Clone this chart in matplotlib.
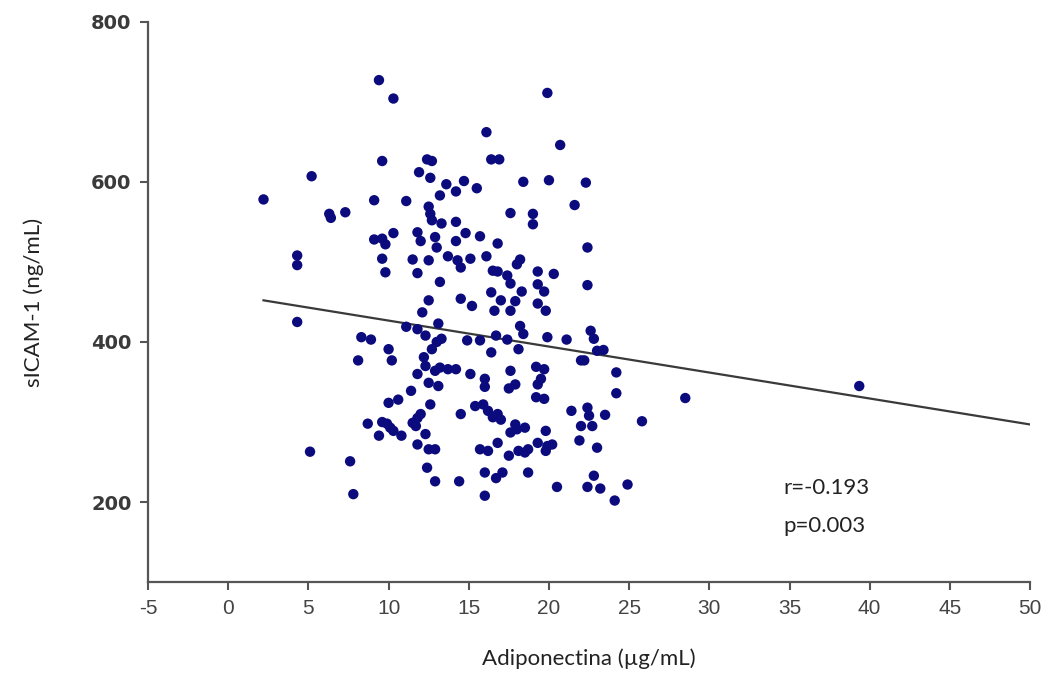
import matplotlib.pyplot as plt

plt.rcParams["axes.unicode_minus"] = False

# Adiponectin (ug/mL) and sICAM-1 (ng/mL) per subject
adiponectin = [
    9.4, 10.3, 19.9, 16.1, 20.7, 16.4, 16.9, 12.4, 12.7, 9.6,
    5.2, 11.9, 12.6, 13.6, 14.7, 14.2, 15.5, 18.4, 20.0, 22.3,
    13.2, 21.6, 2.2, 9.1, 11.1, 12.5, 12.6, 12.7, 6.3, 6.4,
    7.3, 13.3, 14.2, 14.8, 11.8, 12.9, 13.0, 14.2, 15.7, 16.8,
    17.6, 19.0, 19.0, 22.4, 10.3, 9.1, 9.6, 9.8, 12.0, 4.3,
    4.3, 9.6, 11.5, 12.5, 13.7, 14.3, 15.1, 16.1, 18.2, 9.8,
    11.8, 13.2, 14.5, 16.5, 16.8, 17.4, 17.6, 18.0, 19.3, 20.3,
    22.4, 19.3, 19.7, 19.8, 18.3, 16.4, 12.5, 14.5, 15.2, 17.0,
    17.9, 19.3, 12.1, 16.6, 17.6, 13.1, 11.1, 11.8, 12.3, 13.3,
    13.0, 12.7, 14.9, 15.7, 16.7, 17.4, 18.2, 18.4, 18.1, 19.9,
    21.1, 22.6, 22.8, 23.0, 23.4, 22.0, 22.2, 24.2, 24.2, 28.5,
    39.35, 4.3, 8.3, 8.9, 10.0, 8.1, 10.2, 11.8, 11.4, 10.0,
    10.6, 8.7, 9.6, 9.9, 10.1, 10.3, 10.8, 9.4, 11.5, 11.8,
    12.0, 11.7, 11.8, 12.3, 5.1, 7.6, 7.8, 12.2, 12.3, 13.2,
    12.9, 13.7, 14.2, 15.1, 16.4, 17.6, 16.0, 16.0, 19.2, 19.7,
    19.5, 12.6, 12.5, 13.1, 17.5, 17.9, 19.3, 19.2, 19.7, 14.5,
    15.4, 15.9, 16.2, 16.5, 16.8, 17.0, 17.6, 18.0, 18.5, 17.9,
    19.8, 15.7, 16.2, 16.8, 17.5, 18.1, 18.5, 18.7, 19.3, 19.9,
    20.2, 19.8, 12.4, 12.5, 12.9, 12.9, 14.4, 16.0, 16.7, 17.1,
    18.7, 16.0, 20.5, 21.4, 22.4, 22.5, 22.0, 22.7, 23.5, 25.8,
    21.9, 23.0, 22.8, 22.4, 23.2, 24.9, 24.1,
]
sicam1 = [
    727, 704, 711, 662, 646, 628, 628, 628, 626, 626,
    607, 612, 605, 597, 601, 588, 592, 600, 602, 599,
    583, 571, 578, 577, 576, 569, 560, 552, 560, 555,
    562, 548, 550, 536, 537, 531, 518, 526, 532, 523,
    561, 560, 547, 518, 536, 528, 529, 522, 526, 508,
    496, 504, 503, 502, 507, 502, 504, 507, 503, 487,
    486, 475, 493, 489, 488, 483, 473, 497, 488, 485,
    471, 472, 463, 439, 463, 462, 452, 454, 445, 452,
    451, 448, 437, 439, 439, 423, 419, 416, 408, 404,
    400, 391, 402, 402, 408, 403, 420, 410, 391, 406,
    403, 414, 404, 389, 390, 377, 377, 362, 336, 330,
    345, 425, 406, 403, 391, 377, 377, 360, 339, 324,
    328, 298, 300, 298, 293, 289, 283, 283, 299, 305,
    310, 295, 272, 285, 263, 251, 210, 381, 370, 368,
    364, 366, 366, 360, 387, 364, 354, 344, 369, 366,
    354, 322, 349, 345, 342, 347, 347, 331, 329, 310,
    320, 322, 314, 306, 310, 303, 287, 291, 293, 297,
    289, 266, 264, 274, 258, 264, 262, 266, 274, 270,
    272, 264, 243, 266, 266, 226, 226, 237, 230, 237,
    237, 208, 219, 314, 318, 308, 295, 295, 309, 301,
    277, 268, 233, 219, 217, 222, 202,
]

# regression line end points
fit_x = [2.2, 50]
fit_y = [452, 297]

x_ticks = [-5, 0, 5, 10, 15, 20, 25, 30, 35, 40, 45, 50]
y_ticks = [200, 400, 600, 800]

fig = plt.figure(figsize=(10.5, 6.77), dpi=100)
ax = fig.add_axes([0.141, 0.140, 0.840, 0.828])

ax.scatter(adiponectin, sicam1, s=56, color="#0b0b7e", edgecolors="none", zorder=3)
ax.plot(fit_x, fit_y, color="#3a3a3a", linewidth=1.6, zorder=2)

ax.set_xlim(-5, 50)
ax.set_ylim(100, 800)
ax.set_xticks(x_ticks)
ax.set_yticks(y_ticks)

for side in ["top", "right"]:
    ax.spines[side].set_visible(False)
for side in ["left", "bottom"]:
    ax.spines[side].set_color("#555555")
    ax.spines[side].set_linewidth(1.6)

ax.tick_params(axis="both", direction="out", length=6, width=1.5, color="#555555")
ax.tick_params(axis="y", pad=6, labelsize=14, labelcolor="#3a3a3a")
ax.tick_params(axis="x", pad=6, labelsize=15, labelcolor="#444444")
for lbl in ax.get_yticklabels():
    lbl.set_fontfamily("DejaVu Sans")
    lbl.set_fontweight("bold")
for lbl in ax.get_xticklabels():
    lbl.set_fontfamily(["Liberation Sans Narrow", "Liberation Sans"])

ax.set_xlabel("Adiponectina (µg/mL)", fontsize=16, family="Lato", color="#222222", labelpad=22)
ax.set_ylabel("sICAM-1 (ng/mL)", fontsize=16, family="Lato", color="#222222", labelpad=34)

ax.text(34.6, 218, "r=-0.193", fontsize=16, family="Lato", color="#222222", va="center")
ax.text(34.6, 170, "p=0.003", fontsize=16, family="Lato", color="#222222", va="center")

fig.savefig("out.png", dpi=100)
